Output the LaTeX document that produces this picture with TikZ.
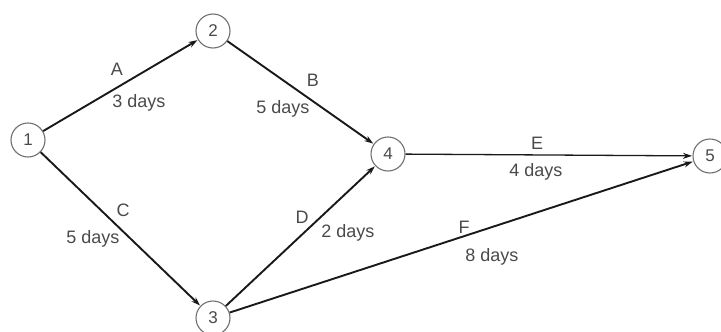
\documentclass[tikz,border=0pt]{standalone}
\usepackage{fontspec}
\setmainfont{Liberation Sans}
\usetikzlibrary{arrows.meta}
\definecolor{txt}{HTML}{4A4A4A}
\definecolor{ring}{HTML}{707070}
\begin{document}
\begin{tikzpicture}[x=1pt,y=-1pt,
  ev/.style={circle,draw=ring,line width=1.1pt,minimum size=34pt,inner sep=0pt,fill=white,text=txt,font=\fontsize{17}{19}\selectfont},
  act/.style={draw=black!90,line width=1.9pt,-{Stealth[length=9pt,width=6pt]},shorten >=0.5pt},
  lab/.style={text=txt,font=\fontsize{18}{20}\selectfont,inner sep=0pt}]
\useasboundingbox (0,0) rectangle (721,332);
\node[ev] (n1) at (28,140) {1};
\node[ev] (n2) at (213,31) {2};
\node[ev] (n3) at (213,318) {3};
\node[ev] (n4) at (388,154) {4};
\node[ev] (n5) at (710,156) {5};
\draw[act] (n1) -- (n2);
\draw[act] (n2) -- (n4);
\draw[act] (n1) -- (n3);
\draw[act] (n3) -- (n4);
\draw[act,line width=1.3pt] (n4) -- (n5);
\draw[act] (n3) -- (n5);
\node[lab] (la) at (117,69) {A};
\node[lab] (ta) at (139,103) {3 days};
\node[lab] (lb) at (313,80) {B};
\node[lab] (tb) at (283,109) {5 days};
\node[lab] (lc) at (123,210) {C};
\node[lab] (tc) at (93,239) {5 days};
\node[lab] (ld) at (302,217) {D};
\node[lab] (td) at (348,233) {2 days};
\node[lab] (le) at (537,143) {E};
\node[lab] (te) at (536,172) {4 days};
\node[lab] (lf) at (464,227) {F};
\node[lab] (tf) at (492,257) {8 days};
\end{tikzpicture}
\end{document}
